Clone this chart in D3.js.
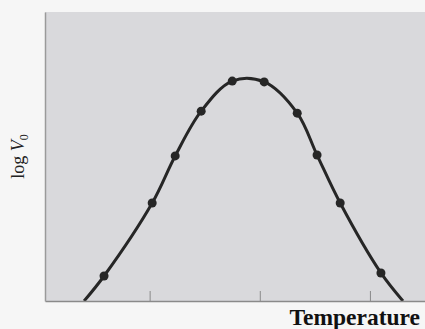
<!DOCTYPE html>
<html>
<head>
<meta charset="utf-8">
<script src="https://cdn.jsdelivr.net/npm/d3@7"></script>
<style>
  body { margin: 0; background: #f6f6f6; }
</style>
</head>
<body>
<svg width="425" height="329"></svg>
<script>
// measured points (x in temperature units, y in log V0 units)
var pointX = [0.586, 1.023, 1.232, 1.468, 1.75, 2.04, 2.34, 2.52, 2.73, 3.10];
var pointY = [0.865, 3.39, 5.02, 6.57, 7.61, 7.58, 6.5, 5.05, 3.39, 0.97];
// where the curve leaves the plot at the bottom
var curveStartX = 0.405, curveEndX = 3.30;
var tickValues = [1, 2, 3];

var svg = d3.select("svg"),
    margin = {top: 12, right: 0, bottom: 28, left: 45},
    width = +svg.attr("width") - margin.left - margin.right,
    height = +svg.attr("height") - margin.top - margin.bottom;

var x = d3.scaleLinear().domain([0.05, 3.5]).range([margin.left, margin.left + width]);
var y = d3.scaleLinear().domain([0, 10]).range([margin.top + height, margin.top]);

svg.append("defs").append("clipPath").attr("id", "clip")
    .append("rect")
    .attr("x", margin.left).attr("y", margin.top)
    .attr("width", width).attr("height", height);

svg.append("rect")
    .attr("x", margin.left).attr("y", margin.top)
    .attr("width", width).attr("height", height)
    .attr("fill", "#d9d9dc");

var curveData = [[curveStartX, 0]].concat(pointX.map(function (d, i) {
    return [d, pointY[i]];
})).concat([[curveEndX, 0]]);

var line = d3.line()
    .x(function (d) { return x(d[0]); })
    .y(function (d) { return y(d[1]); })
    .curve(d3.curveCatmullRom.alpha(0.5));

svg.append("path")
    .datum(curveData)
    .attr("clip-path", "url(#clip)")
    .attr("d", line)
    .attr("fill", "none")
    .attr("stroke", "#262626")
    .attr("stroke-width", 3);

svg.selectAll(".pt")
    .data(pointX)
    .enter().append("circle")
    .attr("class", "pt")
    .attr("cx", function (d) { return x(d); })
    .attr("cy", function (d, i) { return y(pointY[i]); })
    .attr("r", 4.5)
    .attr("fill", "#262626");

// axes
var xAxis = svg.append("g")
    .attr("transform", "translate(0," + (margin.top + height) + ")")
    .call(d3.axisBottom(x).tickValues(tickValues).tickSizeInner(-10).tickSizeOuter(0).tickFormat(""));
xAxis.select(".domain").attr("stroke", "#8a8a8a").attr("stroke-width", 1.5);
xAxis.selectAll(".tick line").attr("stroke", "#8a8a8a");

var yAxis = svg.append("g")
    .attr("transform", "translate(" + margin.left + ",0)")
    .call(d3.axisLeft(y).tickValues([]).tickSizeOuter(0));
yAxis.select(".domain").attr("stroke", "#9a9a9a").attr("stroke-width", 1.5);

// labels
var yl = svg.append("text")
    .attr("transform", "translate(24," + (margin.top + height / 2) + ") rotate(-90)")
    .attr("text-anchor", "middle")
    .attr("font-family", "Liberation Serif, Times New Roman, serif")
    .attr("font-size", 18)
    .attr("fill", "#222");
yl.append("tspan").text("log ");
yl.append("tspan").attr("font-style", "italic").text("V");
yl.append("tspan").attr("dy", 4).attr("font-size", 12).text("0");

svg.append("text")
    .attr("x", 420).attr("y", 325)
    .attr("text-anchor", "end")
    .attr("font-family", "Liberation Serif, Times New Roman, serif")
    .attr("font-weight", "bold")
    .attr("font-size", 23.5)
    .attr("fill", "#111")
    .text("Temperature");
</script>
</body>
</html>
